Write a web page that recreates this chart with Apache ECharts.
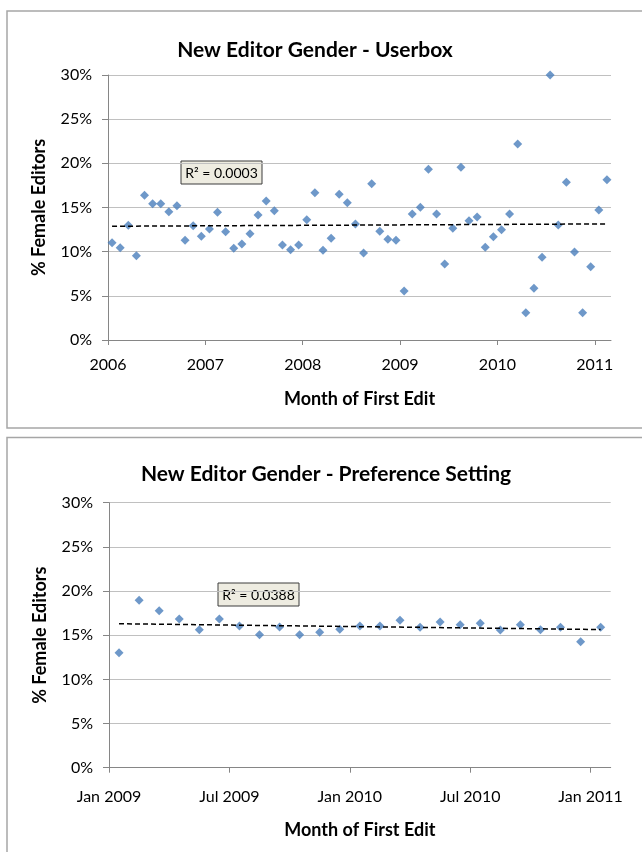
<!DOCTYPE html>
<html><head><meta charset="utf-8">
<script src="https://cdn.jsdelivr.net/npm/echarts@6/dist/echarts.min.js"></script>
<style>html,body{margin:0;padding:0;background:#fff}#c{width:642px;height:852px}</style>
</head><body><div id="c"></div><script>
// ---- Data ----
const topMonths = [
 '2006-01','2006-02','2006-03','2006-04','2006-05','2006-06','2006-07','2006-08','2006-09','2006-10','2006-11','2006-12',
 '2007-01','2007-02','2007-03','2007-04','2007-05','2007-06','2007-07','2007-08','2007-09','2007-10','2007-11','2007-12',
 '2008-01','2008-02','2008-03','2008-04','2008-05','2008-06','2008-07','2008-08','2008-09','2008-10','2008-11','2008-12',
 '2009-01','2009-02','2009-03','2009-04','2009-05','2009-06','2009-07','2009-08','2009-09','2009-10','2009-11','2009-12',
 '2010-01','2010-02','2010-03','2010-04','2010-05','2010-06','2010-07','2010-08','2010-09','2010-10','2010-11','2010-12',
 '2011-01','2011-02'];
const topValues = [
 11.0,10.45,12.98,9.55,16.4,15.43,15.43,14.53,15.21,11.28,12.94,11.74,
 12.57,14.45,12.26,10.38,10.87,12.04,14.15,15.74,14.64,10.75,10.23,10.75,
 13.62,16.68,10.15,11.51,16.49,15.55,13.13,9.85,17.7,12.3,11.4,11.28,
 5.55,14.26,15.02,19.32,14.26,8.6,12.64,19.55,13.51,13.92,10.49,11.7,
 12.49,14.26,22.19,3.09,5.85,9.36,30.0,13.02,17.85,9.96,3.09,8.3,
 14.72,18.15];
const topTickLabels = ['2006','2007','2008','2009','2010','2011'];
const topR2 = 'R\u00B2 = 0.0003';

const bottomMonths = [
 '2009-01','2009-02','2009-03','2009-04','2009-05','2009-06','2009-07','2009-08','2009-09','2009-10','2009-11','2009-12',
 '2010-01','2010-02','2010-03','2010-04','2010-05','2010-06','2010-07','2010-08','2010-09','2010-10','2010-11','2010-12',
 '2011-01'];
const bottomValues = [
 13.02,18.95,17.77,16.83,15.62,16.83,16.04,15.06,15.93,15.06,15.33,15.67,
 16.04,16.04,16.68,15.89,16.49,16.19,16.34,15.59,16.19,15.62,15.89,14.27,
 15.89];
const bottomTickLabels = ['Jan 2009','Jul 2009','Jan 2010','Jul 2010','Jan 2011'];
const bottomR2 = 'R\u00B2 = 0.0388';

const topTitle = 'New Editor Gender - Userbox';
const bottomTitle = 'New Editor Gender - Preference Setting';
const yTitle = '% Female Editors';
const xTitle = 'Month of First Edit';

// ---- Helpers ----
const MON = {Jan:1,Feb:2,Mar:3,Apr:4,May:5,Jun:6,Jul:7,Aug:8,Sep:9,Oct:10,Nov:11,Dec:12};
function slotOf(m, y0){ const p = m.split('-'); return (+p[0]-y0)*12 + (+p[1]-1) + 0.5; }
function tickOfLabel(l, y0){
  const p = l.split(' ');
  if (p.length === 1) return (+p[0]-y0)*12;
  return (+p[1]-y0)*12 + MON[p[0]]-1;
}
function trend(pts){
  const n = pts.length; let sx=0,sy=0,sxx=0,sxy=0;
  pts.forEach(([x,y])=>{sx+=x;sy+=y;sxx+=x*x;sxy+=x*y;});
  const b = (n*sxy - sx*sy)/(n*sxx - sx*sx); const a = (sy - b*sx)/n;
  const x0 = pts[0][0], x1 = pts[n-1][0];
  return [[x0, a+b*x0],[x1, a+b*x1]];
}
const topY0 = +topMonths[0].slice(0,4), botY0 = +bottomMonths[0].slice(0,4);
const topData = topMonths.map((m,i)=>[slotOf(m,topY0), topValues[i]]);
const botData = bottomMonths.map((m,i)=>[slotOf(m,botY0), bottomValues[i]]);
const topTicks = topTickLabels.map(l=>tickOfLabel(l,topY0));
const botTicks = bottomTickLabels.map(l=>tickOfLabel(l,botY0));

const FONT = 'Lato, "Open Sans", sans-serif';
const AX = '#868686', GRID = '#c0c0c0';
const BLUE = '#4a7ebb';

function xAxisCfg(gi, max, ticks, labels, gap, lmargin){
  return {
    type:'value', gridIndex:gi, min:0, max:max,
    axisLine:{show:true, onZero:false, lineStyle:{color:AX, width:1}},
    axisTick:{show:true, inside:false, length:5, customValues:ticks, lineStyle:{color:AX}},
    axisLabel:{customValues:ticks, margin:lmargin, fontFamily:FONT, fontSize:16, color:'#000',
      formatter:(v)=>{const k=ticks.indexOf(v); return k>=0?labels[k]:'';}},
    splitLine:{show:false},
    name:xTitle, nameLocation:'middle', nameGap:gap,
    nameTextStyle:{fontFamily:FONT, fontSize:18, fontWeight:'bold', color:'#000'}
  };
}
function yAxisCfg(gi){
  return {
    type:'value', gridIndex:gi, min:0, max:30, interval:5,
    axisLine:{show:true, lineStyle:{color:AX, width:1}},
    axisTick:{show:true, inside:false, length:6, lineStyle:{color:AX}},
    axisLabel:{margin:16, fontFamily:FONT, fontSize:16, color:'#000', formatter:'{value}%'},
    splitLine:{show:true, lineStyle:{color:GRID, width:1}},
    name:yTitle, nameLocation:'middle', nameGap:60, nameRotate:90,
    nameTextStyle:{fontFamily:FONT, fontSize:18, fontWeight:'bold', color:'#000'}
  };
}
function scatterCfg(i, data){
  return {type:'scatter', xAxisIndex:i, yAxisIndex:i, data:data, symbol:'diamond', symbolSize:9,
    itemStyle:{color:BLUE}, z:3};
}
function trendCfg(i, data){
  return {type:'line', xAxisIndex:i, yAxisIndex:i, data:trend(data), symbol:'none', silent:true, z:4,
    lineStyle:{color:'#000', width:1.5, type:[5,3]}};
}
function r2Box(x, y, text){
  return {type:'group', x:x, y:y, z:10, children:[
    {type:'rect', shape:{x:0,y:0,width:81,height:23}, style:{fill:'#eeece1', stroke:'#3c3c3c', lineWidth:1}},
    {type:'text', x:40.5, y:12, style:{text:text, fontFamily:FONT, fontSize:14, fill:'#000', align:'center', verticalAlign:'middle'}}
  ]};
}

const chart = echarts.init(document.getElementById('c'));
chart.setOption({
  backgroundColor:'#fff',
  animation:false,
  title:[
    {text:topTitle, left:310, top:35, textAlign:'center', textStyle:{fontFamily:FONT, fontSize:21, fontWeight:'bold', color:'#000'}},
    {text:bottomTitle, left:321, top:459, textAlign:'center', textStyle:{fontFamily:FONT, fontSize:21, fontWeight:'bold', color:'#000'}}
  ],
  grid:[
    {left:108, top:75, width:503, height:265, containLabel:false, outerBoundsMode:'none'},
    {left:109, top:502.7, width:501.7, height:265, containLabel:false, outerBoundsMode:'none'}
  ],
  xAxis:[
    xAxisCfg(0, topMonths.length, topTicks, topTickLabels, 50, 17),
    xAxisCfg(1, bottomMonths.length, botTicks, bottomTickLabels, 53, 21)
  ],
  yAxis:[yAxisCfg(0), yAxisCfg(1)],
  series:[
    scatterCfg(0, topData), trendCfg(0, topData),
    scatterCfg(1, botData), trendCfg(1, botData)
  ],
  graphic:[
    {type:'rect', silent:true, z:-10, shape:{x:7,y:11,width:700,height:417}, style:{fill:'none', stroke:'#a6a6a6', lineWidth:1.5}},
    {type:'rect', silent:true, z:-10, shape:{x:7,y:437.5,width:700,height:500}, style:{fill:'none', stroke:'#a6a6a6', lineWidth:1.5}},
    r2Box(181, 161, topR2),
    r2Box(218, 583, bottomR2)
  ]
});
</script></body></html>
